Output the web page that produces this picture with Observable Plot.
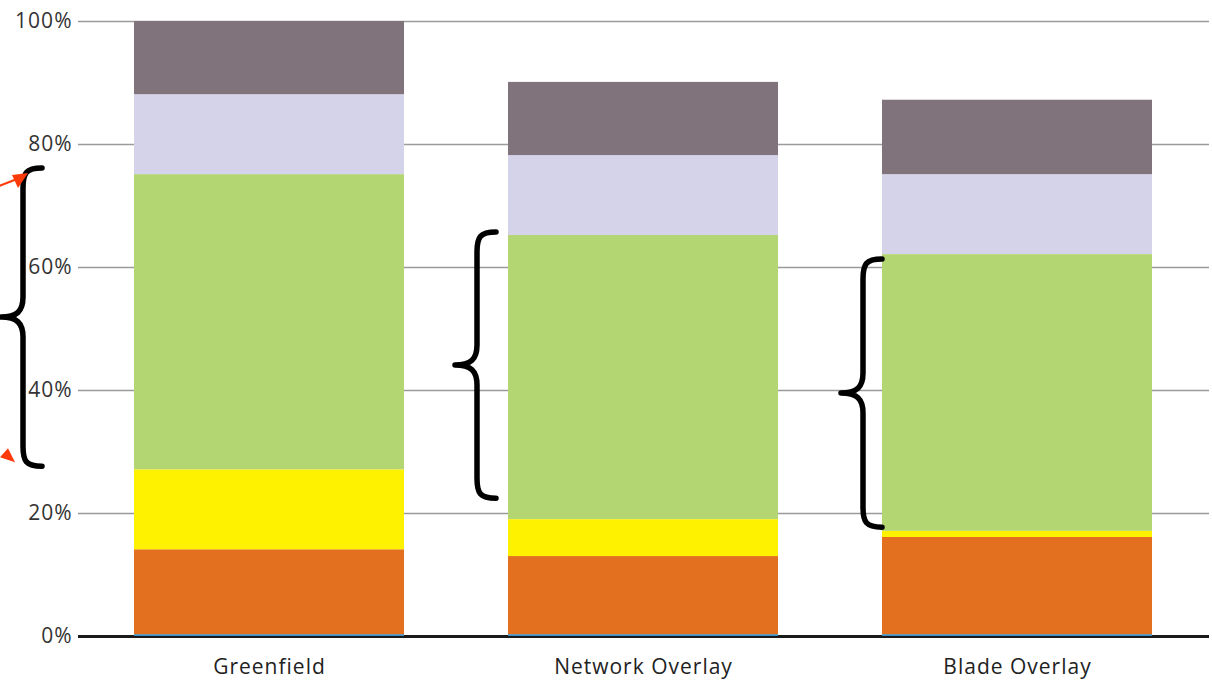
<!DOCTYPE html>
<html><head><meta charset="utf-8">
<script src="https://cdn.jsdelivr.net/npm/d3@7"></script>
<script src="https://cdn.jsdelivr.net/npm/@observablehq/plot@0.6"></script>
<style>body{margin:0;background:#fff;overflow:hidden}</style>
</head><body><div id="chart"></div>
<script>
// ---- data ----
const categories = ["Greenfield", "Network Overlay", "Blade Overlay"];
const seriesNames = ["Base", "Orange", "Yellow", "Green", "Lavender", "Mauve"];
const baseValues     = [0.3, 0.3, 0.3];
const orangeValues   = [13.8, 12.7, 15.8];
const yellowValues   = [13, 6, 1];
const greenValues    = [48, 46.2, 45];
const lavenderValues = [13, 13, 13];
const mauveValues    = [11.9, 11.9, 12.1];
const yTicks = [0, 20, 40, 60, 80, 100];
// brace annotations (percent range per category)
const braceCats   = ["Greenfield", "Network Overlay", "Blade Overlay"];
const braceTop    = [76.1, 65.7, 61.3];
const braceBottom = [27.6, 22.4, 17.7];

const seriesValues = [baseValues, orangeValues, yellowValues, greenValues, lavenderValues, mauveValues];
const colors = ["#3b8fc6", "#e3701e", "#fff200", "#b4d672", "#d5d3e9", "#80737b"];

const table = [];
seriesNames.forEach((s, si) => categories.forEach((c, ci) => table.push({cat: c, series: s, value: seriesValues[si][ci]})));
const braces = braceCats.map((c, i) => ({cat: c, top: braceTop[i], bottom: braceBottom[i]}));

// hook offsets (px) from each bar's left edge
const hookOffset = {"Greenfield": -92, "Network Overlay": -12, "Blade Overlay": 0};

function braceMark(index, scales, values, dimensions, context) {
  const g = d3.create("svg:g");
  braces.forEach(b => {
    const xh = scales.x(b.cat) + hookOffset[b.cat];
    const xv = xh - 19, xt = xv - 22;
    const yt = scales.y(b.top), yb = scales.y(b.bottom), ym = (yt + yb) / 2;
    const r = 20;
    const d = `M${xh},${yt} C${xv + 3},${yt} ${xv},${yt + 5} ${xv},${yt + r} L${xv},${ym - r} C${xv},${ym - 6} ${xv - 6},${ym} ${xt},${ym} C${xv - 6},${ym} ${xv},${ym + 6} ${xv},${ym + r} L${xv},${yb - r} C${xv},${yb - 5} ${xv + 3},${yb} ${xh},${yb}`;
    g.append("path").attr("d", d).attr("fill", "none").attr("stroke", "#000").attr("stroke-width", 5.5).attr("stroke-linecap", "round").attr("stroke-linejoin", "round");
    if (b.cat === "Greenfield") {
      const red = "#ff3a0a";
      // top arrow pointing to the upper hook
      g.append("line").attr("x1", xh - 48).attr("y1", yt + 20).attr("x2", xh - 25).attr("y2", yt + 11).attr("stroke", red).attr("stroke-width", 2);
      g.append("path").attr("d", `M${xh - 14},${yt + 5} L${xh - 30},${yt + 7} L${xh - 24},${yt + 20} Z`).attr("fill", red);
      // bottom arrow pointing to the lower hook
      g.append("path").attr("d", `M${xh - 27},${yb - 4} L${xh - 34},${yb - 18} L${xh - 42},${yb - 9} Z`).attr("fill", red);
    }
  });
  return g.node();
}

const chart = Plot.plot({
  width: 1212,
  height: 685,
  marginLeft: 78,
  marginRight: 3,
  marginTop: 21,
  marginBottom: 49,
  style: {fontFamily: "'Open Sans', sans-serif", fontSize: "21px", letterSpacing: "1px", color: "#333", background: "#fff"},
  x: {domain: categories, paddingInner: 0.277, paddingOuter: 0.147, label: null},
  y: {domain: [0, 100], label: null},
  color: {domain: seriesNames, range: colors},
  marks: [
    Plot.ruleY(yTicks.filter(d => d > 0), {stroke: "#9a9a9a", strokeWidth: 1.5}),
    Plot.ruleY([0], {stroke: "#1a1a1a", strokeWidth: 3}),
    Plot.barY(table, {x: "cat", y: "value", fill: "series"}),
    Plot.axisY({ticks: yTicks, tickFormat: d => d + "%", tickSize: 0, tickPadding: 6, fill: "#333", label: null}),
    Plot.axisX({tickSize: 0, tickPadding: 23, fill: "#222", label: null}),
    braceMark
  ]
});
document.getElementById("chart").appendChild(chart);
</script>
</body></html>
